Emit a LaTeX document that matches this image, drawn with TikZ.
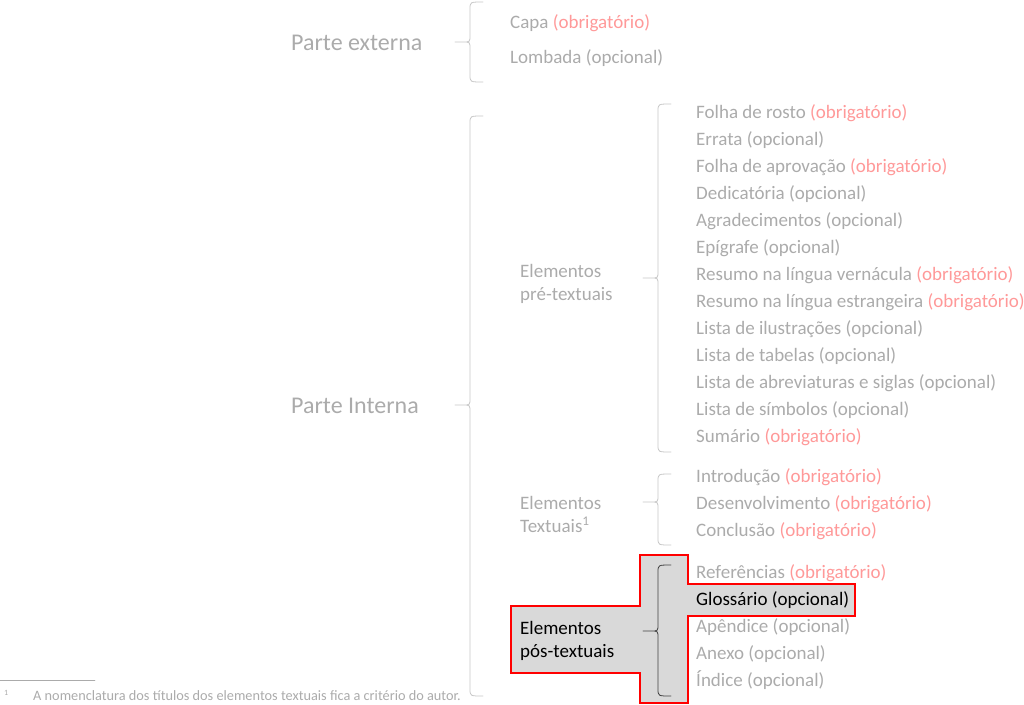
\documentclass[tikz,border=0pt]{standalone}
\usepackage{fontspec}
\setmainfont{Carlito}
\usetikzlibrary{positioning}

\newcommand{\obr}{\textcolor{rosa}{(obrigatório)}}
\newcommand{\opc}{(opcional)}
% brace: [style]{x}{top}{bottom}{tip y}
\newcommand{\chave}[5][]{%
	\draw[chave line,#1] (#2-15,#5) -- (#2-7,#5) .. controls (#2,#5) .. (#2,#5-7) -- (#2,#3+7) .. controls (#2,#3) .. (#2+13,#3)
		(#2-7,#5) .. controls (#2,#5) .. (#2,#5+7) -- (#2,#4-7) .. controls (#2,#4) .. (#2+13,#4);}

\begin{document}
\begin{tikzpicture}
		[x=1pt,y=-1pt,line cap=round,
		%Styles
		parte/.style={anchor=base west,inner sep=0,text=cinza,font=\fontsize{24}{28}\selectfont},
		grupo/.style={anchor=base west,inner sep=0,text=cinza,align=left,font=\fontsize{19}{23}\selectfont},
		item/.style={anchor=base west,inner sep=0,text=cinza,font=\fontsize{19}{23}\selectfont},
		chave line/.style={draw=chavecor,line width=0.8pt},
		destaque/.style={draw=red,fill=fundo,line width=1.2pt,line join=miter},
		nota/.style={anchor=base west,inner sep=0,text=cinza,font=\fontsize{14.3}{16}\selectfont}
		]
		
		%Colors
		\colorlet{cinza}{black!33}
		\colorlet{rosa}{red!40}
		\colorlet{chavecor}{black!22}
		\colorlet{fundo}{black!15}
		
		\useasboundingbox (0,0) rectangle (1024,704);
		
		%Highlighted group
		\draw[destaque] (511,606) -- (640,606) -- (640,555) -- (688,555) -- (688,584) -- (855,584) -- (855,616) -- (688,616) -- (688,703) -- (640,703) -- (640,673) -- (511,673) -- cycle;
		
		%Parts
		\node[parte] (externa) at (291,50) {Parte externa};
		\node[parte] (interna) at (291,413) {Parte Interna};
		\chave{470}{2}{82}{42}
		\chave{470}{116}{696}{405}
		\node[item] (capa) at (510,28) {Capa \obr};
		\node[item] (lombada) at (510,63) {Lombada \opc};
		
		%Groups
		\node[grupo] (pre) at (520,300) {Elementos\\pré-textuais};
		\node[grupo] (textuais) at (520,532) {Elementos\\Textuais\textsuperscript{1}};
		\node[grupo,text=black] (pos) at (520,657) {Elementos\\pós-textuais};
		\chave{658}{104}{452}{278}
		\chave{658}{474}{545}{502}
		\chave[draw=black!75]{658}{565}{696}{631}
		
		%Items
		\foreach \txt [count=\i] in {Folha de rosto \obr, Errata \opc, Folha de aprovação \obr, Dedicatória \opc,
			Agradecimentos \opc, Epígrafe \opc, Resumo na língua vernácula \obr, Resumo na língua estrangeira \obr,
			Lista de ilustrações \opc, Lista de tabelas \opc, Lista de abreviaturas e siglas \opc,
			Lista de símbolos \opc, Sumário \obr}
			\node[item] (pre\i) at (696,91+27*\i) {\txt};
		\foreach \txt [count=\i] in {Introdução \obr, Desenvolvimento \obr, Conclusão \obr}
			\node[item] (tex\i) at (696,455+27*\i) {\txt};
		\node[item] (pos1) at (696,578) {Referências \obr};
		\node[item,text=black] (pos2) at (696,605) {Glossário \opc};
		\node[item] (pos3) at (696,632) {Apêndice \opc};
		\node[item] (pos4) at (696,659) {Anexo \opc};
		\node[item] (pos5) at (696,686) {Índice \opc};
		
		%Footnote
		\coordinate (regua) at (0,680);
		\coordinate (reguafim) at (95,680);
		\draw[draw=cinza,line width=0.5pt] (regua) -- (reguafim);
		\node[nota,font=\fontsize{8}{9}\selectfont] (marca) at (4,695) {1};
		\node[nota] (rodape) at (33,700) {A nomenclatura dos títulos dos elementos textuais fica a critério do autor.};
	\end{tikzpicture}
\end{document}
